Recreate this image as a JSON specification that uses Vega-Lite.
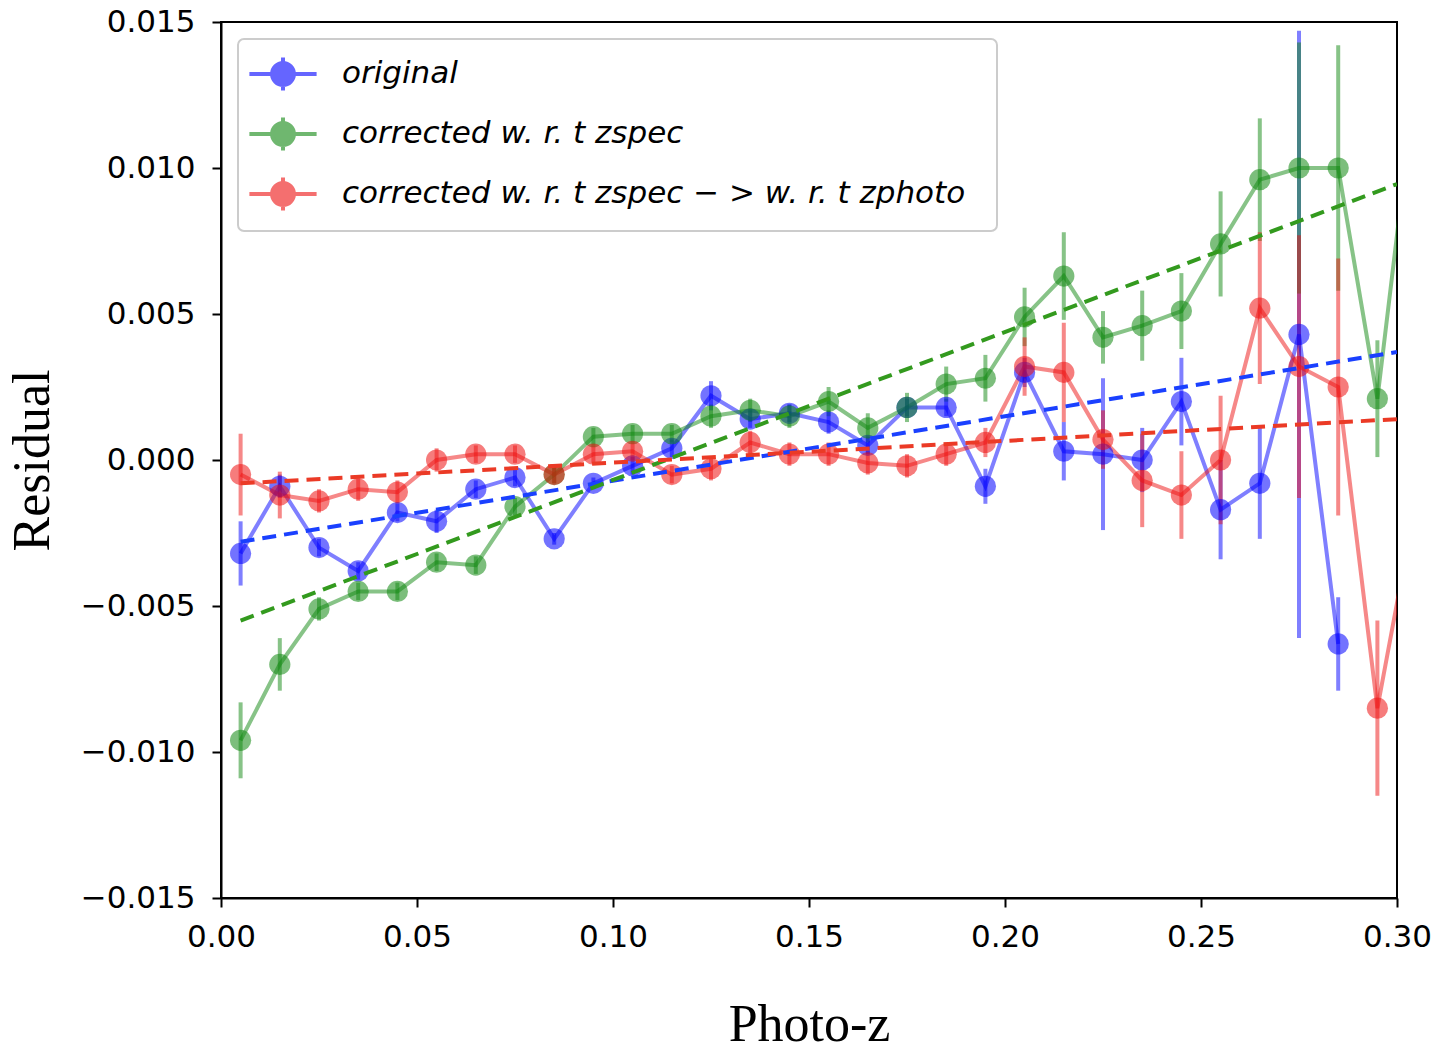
{
  "$schema": "https://vega.github.io/schema/vega-lite/v6.json",
  "width": 1176,
  "height": 876,
  "padding": {"left": 6, "top": 6, "right": 5, "bottom": 0},
  "background": "white",
  "config": {
    "view": {"stroke": "black", "strokeWidth": 2},
    "axis": {
      "grid": false,
      "labelFont": "DejaVu Sans",
      "labelFontSize": 31,
      "labelColor": "black",
      "tickSize": 9,
      "tickWidth": 2,
      "tickColor": "black",
      "domainColor": "black",
      "domainWidth": 2,
      "titleFont": "Liberation Serif",
      "titleFontSize": 52,
      "titleFontWeight": "normal",
      "titleColor": "black",
      "labelFlush": false,
      "labelOverlap": false
    }
  },
  "datasets": {
    "pts": [
      {"z": 0.005, "series": "original", "r": -0.0032, "lo": -0.0043, "hi": -0.0021},
      {"z": 0.015, "series": "original", "r": -0.0009, "lo": -0.0013, "hi": -0.0005},
      {"z": 0.025, "series": "original", "r": -0.0030, "lo": -0.0033, "hi": -0.0027},
      {"z": 0.035, "series": "original", "r": -0.0038, "lo": -0.0041, "hi": -0.0035},
      {"z": 0.045, "series": "original", "r": -0.0018, "lo": -0.0021, "hi": -0.0015},
      {"z": 0.055, "series": "original", "r": -0.0021, "lo": -0.0025, "hi": -0.0017},
      {"z": 0.065, "series": "original", "r": -0.0010, "lo": -0.0013, "hi": -0.0007},
      {"z": 0.075, "series": "original", "r": -0.0006, "lo": -0.0009, "hi": -0.0003},
      {"z": 0.085, "series": "original", "r": -0.0027, "lo": -0.0029, "hi": -0.0025},
      {"z": 0.095, "series": "original", "r": -0.0008, "lo": -0.0010, "hi": -0.0006},
      {"z": 0.105, "series": "original", "r": -0.0002, "lo": -0.0005, "hi": 0.0001},
      {"z": 0.115, "series": "original", "r": 0.0004, "lo": 0.0001, "hi": 0.0007},
      {"z": 0.125, "series": "original", "r": 0.0022, "lo": 0.0017, "hi": 0.0027},
      {"z": 0.135, "series": "original", "r": 0.0014, "lo": 0.0011, "hi": 0.0017},
      {"z": 0.145, "series": "original", "r": 0.0016, "lo": 0.0013, "hi": 0.0019},
      {"z": 0.155, "series": "original", "r": 0.0013, "lo": 0.0009, "hi": 0.0017},
      {"z": 0.165, "series": "original", "r": 0.0005, "lo": 0.0002, "hi": 0.0008},
      {"z": 0.175, "series": "original", "r": 0.0018, "lo": 0.0015, "hi": 0.0021},
      {"z": 0.185, "series": "original", "r": 0.0018, "lo": 0.0015, "hi": 0.0021},
      {"z": 0.195, "series": "original", "r": -0.0009, "lo": -0.0015, "hi": -0.0003},
      {"z": 0.205, "series": "original", "r": 0.0030, "lo": 0.0025, "hi": 0.0035},
      {"z": 0.215, "series": "original", "r": 0.0003, "lo": -0.0007, "hi": 0.0013},
      {"z": 0.225, "series": "original", "r": 0.0002, "lo": -0.0024, "hi": 0.0028},
      {"z": 0.235, "series": "original", "r": 0.0000, "lo": -0.0011, "hi": 0.0011},
      {"z": 0.245, "series": "original", "r": 0.0020, "lo": 0.0005, "hi": 0.0035},
      {"z": 0.255, "series": "original", "r": -0.0017, "lo": -0.0034, "hi": 0.0000},
      {"z": 0.265, "series": "original", "r": -0.0008, "lo": -0.0027, "hi": 0.0011},
      {"z": 0.275, "series": "original", "r": 0.0043, "lo": -0.0061, "hi": 0.0147},
      {"z": 0.285, "series": "original", "r": -0.0063, "lo": -0.0079, "hi": -0.0047},

      {"z": 0.005, "series": "spec", "r": -0.0096, "lo": -0.0109, "hi": -0.0083},
      {"z": 0.015, "series": "spec", "r": -0.0070, "lo": -0.0079, "hi": -0.0061},
      {"z": 0.025, "series": "spec", "r": -0.0051, "lo": -0.0055, "hi": -0.0047},
      {"z": 0.035, "series": "spec", "r": -0.0045, "lo": -0.0048, "hi": -0.0042},
      {"z": 0.045, "series": "spec", "r": -0.0045, "lo": -0.0048, "hi": -0.0042},
      {"z": 0.055, "series": "spec", "r": -0.0035, "lo": -0.0038, "hi": -0.0032},
      {"z": 0.065, "series": "spec", "r": -0.0036, "lo": -0.0039, "hi": -0.0033},
      {"z": 0.075, "series": "spec", "r": -0.0016, "lo": -0.0019, "hi": -0.0013},
      {"z": 0.085, "series": "spec", "r": -0.0005, "lo": -0.0008, "hi": -0.0002},
      {"z": 0.095, "series": "spec", "r": 0.0008, "lo": 0.0005, "hi": 0.0011},
      {"z": 0.105, "series": "spec", "r": 0.0009, "lo": 0.0006, "hi": 0.0012},
      {"z": 0.115, "series": "spec", "r": 0.0009, "lo": 0.0006, "hi": 0.0012},
      {"z": 0.125, "series": "spec", "r": 0.0015, "lo": 0.0011, "hi": 0.0019},
      {"z": 0.135, "series": "spec", "r": 0.0017, "lo": 0.0013, "hi": 0.0021},
      {"z": 0.145, "series": "spec", "r": 0.0015, "lo": 0.0011, "hi": 0.0019},
      {"z": 0.155, "series": "spec", "r": 0.0020, "lo": 0.0015, "hi": 0.0025},
      {"z": 0.165, "series": "spec", "r": 0.0011, "lo": 0.0006, "hi": 0.0016},
      {"z": 0.175, "series": "spec", "r": 0.0018, "lo": 0.0013, "hi": 0.0023},
      {"z": 0.185, "series": "spec", "r": 0.0026, "lo": 0.0020, "hi": 0.0032},
      {"z": 0.195, "series": "spec", "r": 0.0028, "lo": 0.0020, "hi": 0.0036},
      {"z": 0.205, "series": "spec", "r": 0.0049, "lo": 0.0039, "hi": 0.0059},
      {"z": 0.215, "series": "spec", "r": 0.0063, "lo": 0.0048, "hi": 0.0078},
      {"z": 0.225, "series": "spec", "r": 0.0042, "lo": 0.0033, "hi": 0.0051},
      {"z": 0.235, "series": "spec", "r": 0.0046, "lo": 0.0034, "hi": 0.0058},
      {"z": 0.245, "series": "spec", "r": 0.0051, "lo": 0.0038, "hi": 0.0064},
      {"z": 0.255, "series": "spec", "r": 0.0074, "lo": 0.0056, "hi": 0.0092},
      {"z": 0.265, "series": "spec", "r": 0.0096, "lo": 0.0075, "hi": 0.0117},
      {"z": 0.275, "series": "spec", "r": 0.0100, "lo": 0.0057, "hi": 0.0143},
      {"z": 0.285, "series": "spec", "r": 0.0100, "lo": 0.0058, "hi": 0.0142},
      {"z": 0.295, "series": "spec", "r": 0.0021, "lo": 0.0001, "hi": 0.0041},
      {"z": 0.305, "series": "spec", "r": 0.0133, "lo": 0.0113, "hi": 0.0153},

      {"z": 0.005, "series": "photo", "r": -0.0005, "lo": -0.0019, "hi": 0.0009},
      {"z": 0.015, "series": "photo", "r": -0.0012, "lo": -0.0020, "hi": -0.0004},
      {"z": 0.025, "series": "photo", "r": -0.0014, "lo": -0.0018, "hi": -0.0010},
      {"z": 0.035, "series": "photo", "r": -0.0010, "lo": -0.0014, "hi": -0.0006},
      {"z": 0.045, "series": "photo", "r": -0.0011, "lo": -0.0015, "hi": -0.0007},
      {"z": 0.055, "series": "photo", "r": 0.0000, "lo": -0.0004, "hi": 0.0004},
      {"z": 0.065, "series": "photo", "r": 0.0002, "lo": -0.0001, "hi": 0.0005},
      {"z": 0.075, "series": "photo", "r": 0.0002, "lo": -0.0001, "hi": 0.0005},
      {"z": 0.085, "series": "photo", "r": -0.0005, "lo": -0.0008, "hi": -0.0002},
      {"z": 0.095, "series": "photo", "r": 0.0002, "lo": -0.0001, "hi": 0.0005},
      {"z": 0.105, "series": "photo", "r": 0.0003, "lo": 0.0000, "hi": 0.0006},
      {"z": 0.115, "series": "photo", "r": -0.0005, "lo": -0.0008, "hi": -0.0002},
      {"z": 0.125, "series": "photo", "r": -0.0003, "lo": -0.0007, "hi": 0.0001},
      {"z": 0.135, "series": "photo", "r": 0.0006, "lo": 0.0002, "hi": 0.0010},
      {"z": 0.145, "series": "photo", "r": 0.0002, "lo": -0.0002, "hi": 0.0006},
      {"z": 0.155, "series": "photo", "r": 0.0002, "lo": -0.0002, "hi": 0.0006},
      {"z": 0.165, "series": "photo", "r": -0.0001, "lo": -0.0005, "hi": 0.0003},
      {"z": 0.175, "series": "photo", "r": -0.0002, "lo": -0.0006, "hi": 0.0002},
      {"z": 0.185, "series": "photo", "r": 0.0002, "lo": -0.0002, "hi": 0.0006},
      {"z": 0.195, "series": "photo", "r": 0.0006, "lo": 0.0001, "hi": 0.0011},
      {"z": 0.205, "series": "photo", "r": 0.0032, "lo": 0.0022, "hi": 0.0042},
      {"z": 0.215, "series": "photo", "r": 0.0030, "lo": 0.0013, "hi": 0.0047},
      {"z": 0.225, "series": "photo", "r": 0.0007, "lo": -0.0003, "hi": 0.0017},
      {"z": 0.235, "series": "photo", "r": -0.0007, "lo": -0.0023, "hi": 0.0009},
      {"z": 0.245, "series": "photo", "r": -0.0012, "lo": -0.0027, "hi": 0.0003},
      {"z": 0.255, "series": "photo", "r": 0.0000, "lo": -0.0022, "hi": 0.0022},
      {"z": 0.265, "series": "photo", "r": 0.0052, "lo": 0.0026, "hi": 0.0078},
      {"z": 0.275, "series": "photo", "r": 0.0032, "lo": -0.0013, "hi": 0.0077},
      {"z": 0.285, "series": "photo", "r": 0.0025, "lo": -0.0019, "hi": 0.0069},
      {"z": 0.295, "series": "photo", "r": -0.0085, "lo": -0.0115, "hi": -0.0055},
      {"z": 0.305, "series": "photo", "r": -0.0013, "lo": -0.0043, "hi": 0.0017}
    ],
    "fits": [
      {"z": 0.005, "series": "fit_original", "r": -0.0028},
      {"z": 0.300, "series": "fit_original", "r": 0.0037},
      {"z": 0.005, "series": "fit_spec", "r": -0.0055},
      {"z": 0.300, "series": "fit_spec", "r": 0.00945},
      {"z": 0.005, "series": "fit_photo", "r": -0.0008},
      {"z": 0.300, "series": "fit_photo", "r": 0.0014}
    ]
  },
  "layer": [
    {
      "data": {"name": "pts"},
      "mark": {"type": "rule", "strokeWidth": 4, "opacity": 0.5, "clip": true},
      "encoding": {
        "x": {
          "field": "z", "type": "quantitative",
          "scale": {"domain": [0, 0.3], "nice": false, "zero": false},
          "axis": {"values": [0, 0.05, 0.1, 0.15, 0.2, 0.25, 0.3], "format": ".2f", "title": "Photo-z", "titlePadding": 47, "labelPadding": 15}
        },
        "y": {
          "field": "lo", "type": "quantitative",
          "scale": {"domain": [-0.015, 0.015], "nice": false, "zero": false},
          "axis": {"values": [-0.015, -0.01, -0.005, 0, 0.005, 0.01, 0.015], "format": ".3f", "title": "Residual", "titlePadding": 21, "labelPadding": 17}
        },
        "y2": {"field": "hi"},
        "color": {
          "field": "series", "type": "nominal",
          "scale": {
            "domain": ["original", "spec", "photo", "fit_original", "fit_spec", "fit_photo"],
            "range": ["#0000ff", "#108810", "#ee1111", "#1a40ff", "#339a1e", "#eb3a26"]
          },
          "legend": {
            "values": ["original", "spec", "photo"],
            "title": null,
            "orient": "top-left",
            "offset": 17,
            "labelExpr": "datum.value == 'original' ? 'original' : datum.value == 'spec' ? 'corrected w. r. t zspec' : 'corrected w. r. t zspec  − >  w. r. t zphoto'",
            "labelFont": "DejaVu Sans",
            "labelFontStyle": "italic",
            "labelFontSize": 31,
            "labelColor": "black",
            "labelLimit": 2000,
            "symbolType": "M-1.6,0H1.6M0,-0.79V0.79M0.52,0A0.52,0.52,0,1,1,-0.52,0A0.52,0.52,0,1,1,0.52,0Z",
            "symbolSize": 1764,
            "symbolStrokeWidth": 4,
            "symbolOpacity": 0.6,
            "symbolOffset": 10,
            "labelOffset": 36,
            "rowPadding": 10,
            "padding": 12,
            "fillColor": "white",
            "strokeColor": "#cccccc",
            "cornerRadius": 6,
            "encode": {
              "legend": {
                "update": {"strokeWidth": {"value": 2}}
              },
              "symbols": {
                "update": {
                  "fill": {"scale": "color", "field": "value"},
                  "stroke": {"scale": "color", "field": "value"}
                }
              }
            }
          }
        }
      }
    },
    {
      "data": {"name": "pts"},
      "mark": {"type": "line", "strokeWidth": 4, "opacity": 0.5, "clip": true},
      "encoding": {
        "x": {"field": "z", "type": "quantitative"},
        "y": {"field": "r", "type": "quantitative"},
        "color": {"field": "series", "type": "nominal"}
      }
    },
    {
      "data": {"name": "pts"},
      "mark": {"type": "point", "filled": true, "size": 450, "opacity": 0.55, "clip": true},
      "encoding": {
        "x": {"field": "z", "type": "quantitative"},
        "y": {"field": "r", "type": "quantitative"},
        "color": {"field": "series", "type": "nominal"}
      }
    },
    {
      "data": {"name": "fits"},
      "mark": {"type": "line", "strokeWidth": 4, "strokeDash": [14, 8], "clip": true},
      "encoding": {
        "x": {"field": "z", "type": "quantitative"},
        "y": {"field": "r", "type": "quantitative"},
        "color": {"field": "series", "type": "nominal"}
      }
    },
    {
      "mark": {"type": "rule", "color": "black", "strokeWidth": 4, "strokeDash": [14, 8]},
      "encoding": {"y": {"datum": 0}}
    }
  ]
}
